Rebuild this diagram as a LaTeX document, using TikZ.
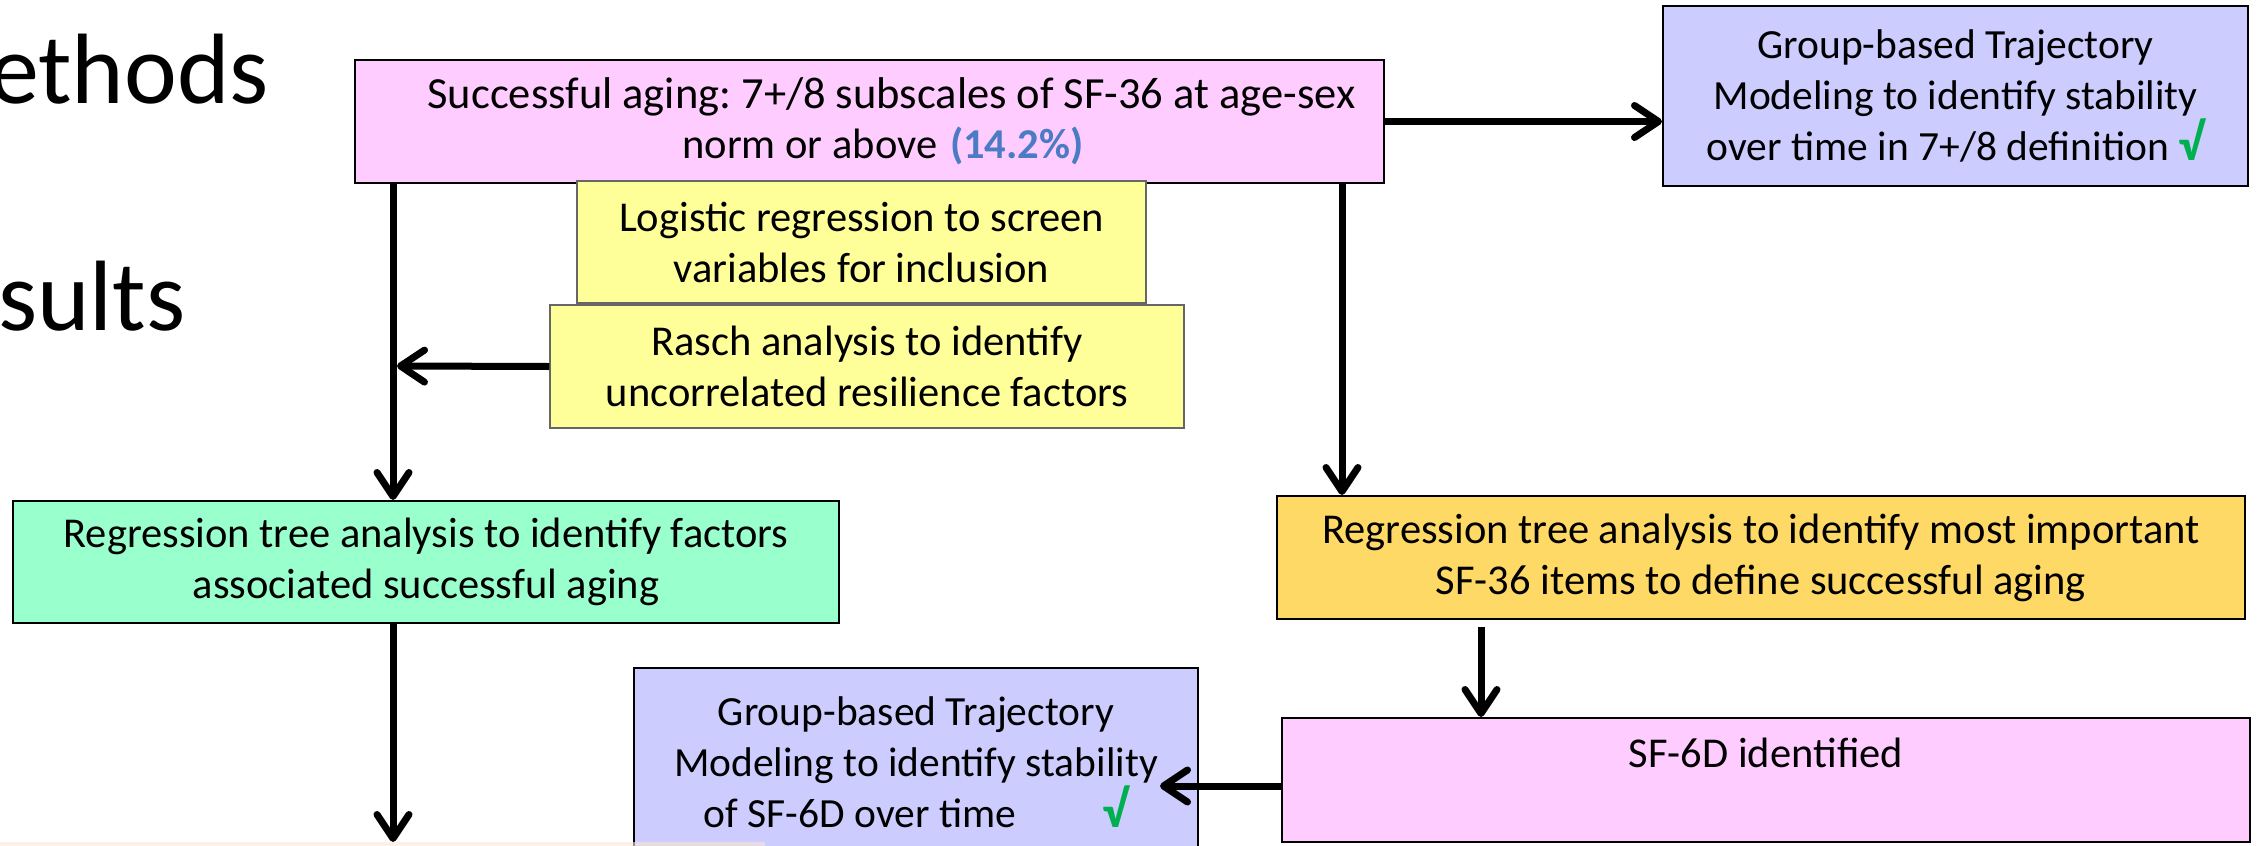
\documentclass[tikz,border=0pt]{standalone}
\usepackage{fontspec}
\setmainfont{Carlito}
\usetikzlibrary{arrows.meta}
\frenchspacing
\definecolor{pinkfill}{HTML}{FFCCFF}
\definecolor{yellowfill}{HTML}{FFFF99}
\definecolor{purplefill}{HTML}{CCCCFF}
\definecolor{mintfill}{HTML}{99FFCC}
\definecolor{orangefill}{HTML}{FFD966}
\definecolor{bluetext}{HTML}{4A7BC4}
\definecolor{checkgreen}{HTML}{00B050}
\definecolor{peach}{HTML}{FCE6D2}
\newcommand{\chk}{\textcolor{checkgreen}{\fontsize{52}{51}\selectfont\bfseries √}}
\begin{document}
\begin{tikzpicture}[x=1pt,y=-1pt,
  box/.style={draw=black, line width=2pt, inner sep=0pt, align=center,
    font=\fontsize{42.5}{51}\selectfont},
  ybox/.style={box, draw=black!60, line width=1.5pt, fill=yellowfill},
  pbox/.style={box, fill=purplefill, font=\fontsize{41.5}{51}\selectfont},
  arr/.style={line width=7pt, -{Straight Barb[length=24pt,width=32pt,round]}},
  title/.style={anchor=base west, inner sep=0pt, font=\fontsize{100}{120}\selectfont}]
\useasboundingbox (0,0) rectangle (2257,846);
\clip (0,0) rectangle (2257,846);

% slide title remnants
\node[title] (meth) at (-11,103) {ethods};
\node[title] (res) at (-2,330) {sults};

% boxes
\node[box, fill=pinkfill, minimum width=1029pt, minimum height=123pt, font=\fontsize{44.5}{50}\selectfont] (top) at (869.5,121.5)
  {\hspace*{44pt}Successful aging: 7+/8 subscales of SF-36 at age-sex\\
   \hspace*{27pt}{\fontsize{42.5}{50}\selectfont norm or above\hspace{13pt}\textcolor{bluetext}{\bfseries (14.2\%)}}};
\node[ybox, minimum width=569pt, minimum height=122pt] (log) at (861.5,242)
  {Logistic regression to screen\\variables for inclusion};
\node[ybox, minimum width=634pt, minimum height=123pt] (rasch) at (867,366.5)
  {Rasch analysis to identify\\uncorrelated resilience factors};
\node[pbox, minimum width=585pt, minimum height=180pt] (gbtA) at (1955.5,96)
  {Group-based Trajectory\\Modeling to identify stability\\over time in 7+/8 definition \chk};
\node[box, fill=mintfill, minimum width=826pt, minimum height=122pt] (rta) at (426,562)
  {Regression tree analysis to identify factors\\associated successful aging};
\node[box, fill=orangefill, minimum width=968pt, minimum height=123pt] (rtb) at (1761,557.5)
  {Regression tree analysis to identify most important\\SF-36 items to define successful aging};
\node[box, fill=pinkfill, minimum width=968pt, minimum height=124pt, text height=30pt, text depth=56pt] (sf6d) at (1766,780)
  {SF-6D identified};
\node[pbox, minimum width=564pt, minimum height=188pt] (gbtB) at (916,762)
  {Group-based Trajectory\\Modeling to identify stability\\of SF-6D over time\hspace{86pt}\chk};

\fill[peach, opacity=0.6] (0,842) rectangle (765,846);

% connector coordinates
\coordinate (lx) at (393,0);
\coordinate (rx) at (1342,0);
\coordinate (mx) at (1481,0);
\coordinate (raschtip) at (397,366);
\coordinate (bottomtip) at (393,842);
\coordinate (gbtBtip) at (1160,786);

% connectors
\draw[arr] (top.south -| lx) -- (rta.north -| lx);
\draw[arr] (rasch.west) -- (raschtip);
\draw[arr] (top.south -| rx) -- (rtb.north -| rx);
\draw[arr] (top.east) -- (top.east -| gbtA.west);
\draw[arr, shorten <=7pt] (rtb.south -| mx) -- (sf6d.north -| mx);
\draw[arr] (sf6d.west |- gbtBtip) -- (gbtBtip);
\draw[arr] (rta.south -| lx) -- (bottomtip);
\end{tikzpicture}
\end{document}
